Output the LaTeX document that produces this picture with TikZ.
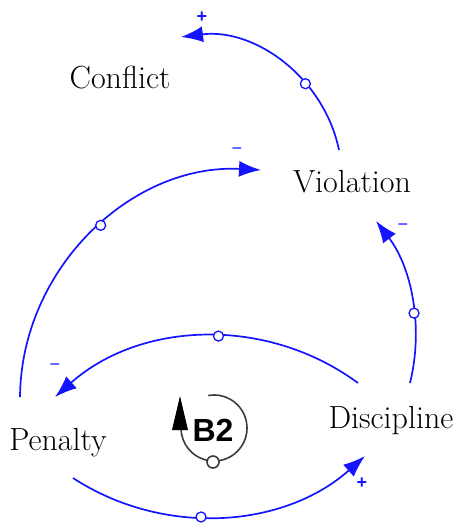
\documentclass[tikz,border=0pt]{standalone}
\usetikzlibrary{arrows.meta}
\usepackage{fontspec}
\newfontfamily\loopfont{Liberation Sans}
\definecolor{linkblue}{RGB}{20,20,255}
\definecolor{ringgray}{RGB}{60,60,60}
\begin{document}
\begin{tikzpicture}[x=1pt,y=-1pt,
  lbl/.style={font=\fontsize{32}{34}\selectfont, anchor=base, inner sep=0pt},
  link/.style={draw=linkblue, line width=1.7pt, -{Latex[length=22pt,width=16pt]}},
  hole/.style={circle, draw=linkblue, fill=white, line width=1.3pt, minimum size=10pt, inner sep=0pt},
  pol/.style={text=linkblue, font=\loopfont\fontsize{18}{18}\selectfont, inner sep=0pt},
  ring/.style={draw=ringgray, line width=1.6pt},
  ringhole/.style={circle, draw=ringgray, fill=white, line width=1.6pt, minimum size=12pt, inner sep=0pt}]
\useasboundingbox (0,0) rectangle (462,523);

% variables
\node[lbl] (conflict) at (120,88) {Conflict};
\node[lbl] (violation) at (352,192) {Violation};
\node[lbl] (discipline) at (391,428) {Discipline};
\node[lbl] (penalty) at (58,450) {Penalty};

% connector end points
\coordinate (c1s) at (339,150); \coordinate (c1e) at (181,37);
\coordinate (c2s) at (20,397);  \coordinate (c2e) at (261,170);
\coordinate (c3s) at (358,383); \coordinate (c3e) at (55,397);
\coordinate (c4s) at (73,478);  \coordinate (c4e) at (365,456);
\coordinate (c5s) at (410,383); \coordinate (c5e) at (376,221);

% links
\draw[link] (c1s) to[bend right=42.7, looseness=0.98] node[hole,pos=0.35] (h1) {} (c1e);
\draw[link] (c2s) to[bend left=46.2] node[hole,pos=0.53] (h2) {} (c2e);
\draw[link] (c3s) to[bend right=39, looseness=0.96] node[hole,pos=0.455] (h3) {} (c3e);
\draw[link] (c4s) to[bend right=37.4, looseness=0.95] node[hole,pos=0.43] (h4) {} (c4e);
\draw[link] (c5s) to[bend right=25.7, looseness=0.9] node[hole,pos=0.41] (h5) {} (c5e);

% polarities
\node[pol] (p1) at (202,17) {\bfseries +};
\node[pol] (p2) at (237,151) {−};
\node[pol] (p3) at (55,367) {−};
\node[pol] (p4) at (362,483) {\bfseries +};
\node[pol] (p5) at (403,227) {−};

% loop symbol B2
\coordinate (b2c) at (214,428);
\draw[ring] ([shift={(-100:33)}]b2c) arc[start angle=-100, end angle=180, radius=33];
\fill[black] (180,396) -- (172,430) -- (188,430) -- cycle;
\node[ringhole] (b2hole) at (213,462) {};
\node[font=\loopfont\bfseries\fontsize{32}{32}\selectfont, inner sep=0pt] (b2) at (213,430) {B2};
\end{tikzpicture}
\end{document}
